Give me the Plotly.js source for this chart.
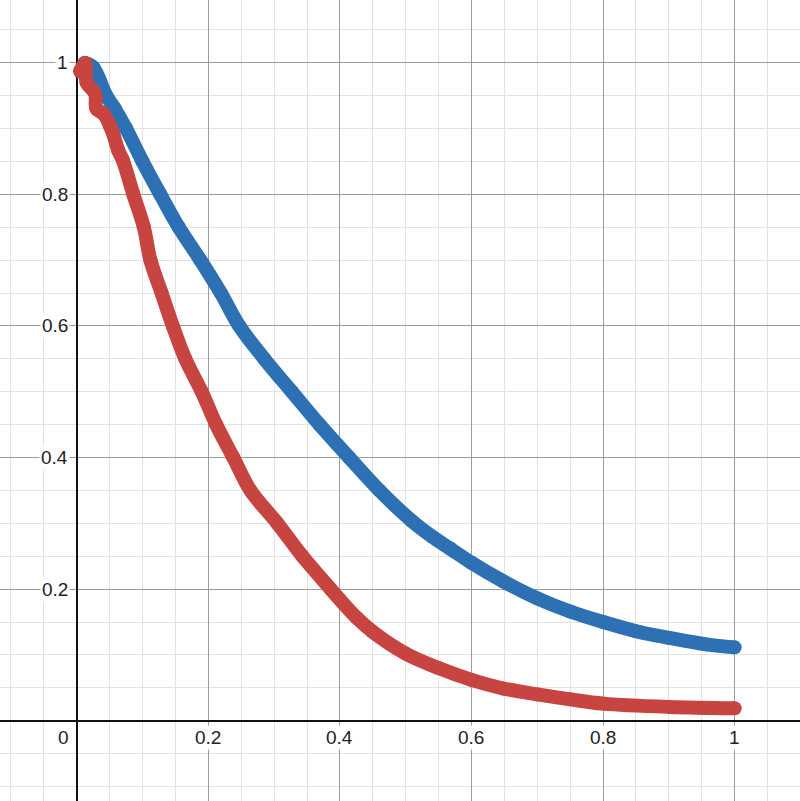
<!DOCTYPE html>
<html>
<head>
<meta charset="utf-8">
<script src="https://cdn.plot.ly/plotly-3.0.1.min.js"></script>
<style>
html,body{margin:0;padding:0;background:#fff;}
#chart{width:800px;height:801px;}
</style>
</head>
<body>
<div id="chart"></div>
<script>
// Blue series
const blueX = [0.012, 0.025, 0.045, 0.058, 0.075, 0.100, 0.127, 0.155, 0.188, 0.219, 0.247, 0.285, 0.327, 0.369, 0.414, 0.460, 0.510, 0.540, 0.567, 0.600, 0.648, 0.700, 0.750, 0.800, 0.850, 0.900, 0.957, 1.000];
const blueY = [1.000, 0.993, 0.950, 0.930, 0.900, 0.850, 0.800, 0.750, 0.700, 0.650, 0.600, 0.550, 0.500, 0.450, 0.400, 0.350, 0.303, 0.280, 0.262, 0.240, 0.212, 0.186, 0.166, 0.150, 0.136, 0.126, 0.116, 0.1115];

// Red series
const redX = [0.005, 0.013, 0.015, 0.028, 0.030, 0.041, 0.051, 0.056, 0.063, 0.070, 0.086, 0.102, 0.112, 0.129, 0.146, 0.165, 0.190, 0.212, 0.238, 0.264, 0.305, 0.343, 0.386, 0.400, 0.426, 0.450, 0.500, 0.550, 0.600, 0.648, 0.700, 0.750, 0.800, 0.900, 1.000];
const redY = [0.987, 0.999, 0.970, 0.953, 0.930, 0.922, 0.903, 0.890, 0.867, 0.852, 0.800, 0.750, 0.700, 0.650, 0.600, 0.550, 0.500, 0.450, 0.400, 0.350, 0.300, 0.250, 0.200, 0.184, 0.156, 0.135, 0.102, 0.080, 0.062, 0.049, 0.040, 0.0325, 0.026, 0.021, 0.019];

// Tick labels
const xTickVals = [0, 0.2, 0.4, 0.6, 0.8, 1];
const xTickText = ["0", "0.2", "0.4", "0.6", "0.8", "1"];
const yTickVals = [0.2, 0.4, 0.6, 0.8, 1];
const yTickText = ["0.2", "0.4", "0.6", "0.8", "1"];

const BLUE = '#2d70b3';
const RED = '#c74440';
const FONT = 'Arial, "Liberation Sans", sans-serif';

const traces = [
  {x: blueX, y: blueY, type: 'scatter', mode: 'lines+markers',
   line: {color: BLUE, width: 14, shape: 'spline', smoothing: 1}, marker: {color: BLUE, size: 14}, hoverinfo: 'skip'},
  {x: redX, y: redY, type: 'scatter', mode: 'lines+markers',
   line: {color: RED, width: 14, shape: 'spline', smoothing: 1}, marker: {color: RED, size: 14}, hoverinfo: 'skip'}
];

const annotations = [];
xTickVals.forEach((v, i) => {
  annotations.push({
    x: v, y: 0, xref: 'x', yref: 'y', text: xTickText[i], showarrow: false,
    xanchor: v === 0 ? 'right' : 'center', xshift: v === 0 ? -6 : 0,
    yanchor: 'middle', yshift: -17,
    font: {family: FONT, size: 19, color: '#222'}, bgcolor: '#fff', borderpad: 1
  });
});
yTickVals.forEach((v, i) => {
  annotations.push({
    x: 0, y: v, xref: 'x', yref: 'y', text: yTickText[i], showarrow: false,
    xanchor: 'right', xshift: -7, yanchor: 'middle',
    font: {family: FONT, size: 19, color: '#222'}, bgcolor: '#fff', borderpad: 1
  });
});

const axisCommon = {
  showticklabels: false, ticks: '', showline: false,
  showgrid: true, gridcolor: '#9c9c9c', gridwidth: 1,
  tick0: 0, dtick: 0.2,
  minor: {tick0: 0, dtick: 0.05, showgrid: true, gridcolor: '#e2e2e2', gridwidth: 1, ticks: ''},
  zeroline: true, zerolinecolor: '#111', zerolinewidth: 2,
  fixedrange: true
};

const layout = {
  width: 800, height: 801,
  margin: {l: 0, r: 0, t: 0, b: 0, pad: 0},
  paper_bgcolor: '#fff', plot_bgcolor: '#fff',
  showlegend: false,
  xaxis: Object.assign({}, axisCommon, {range: [-0.1166, 1.0993]}),
  yaxis: Object.assign({}, axisCommon, {range: [-0.122, 1.0953]}),
  annotations: annotations
};

Plotly.newPlot('chart', traces, layout, {staticPlot: true, displayModeBar: false});
</script>
</body>
</html>
